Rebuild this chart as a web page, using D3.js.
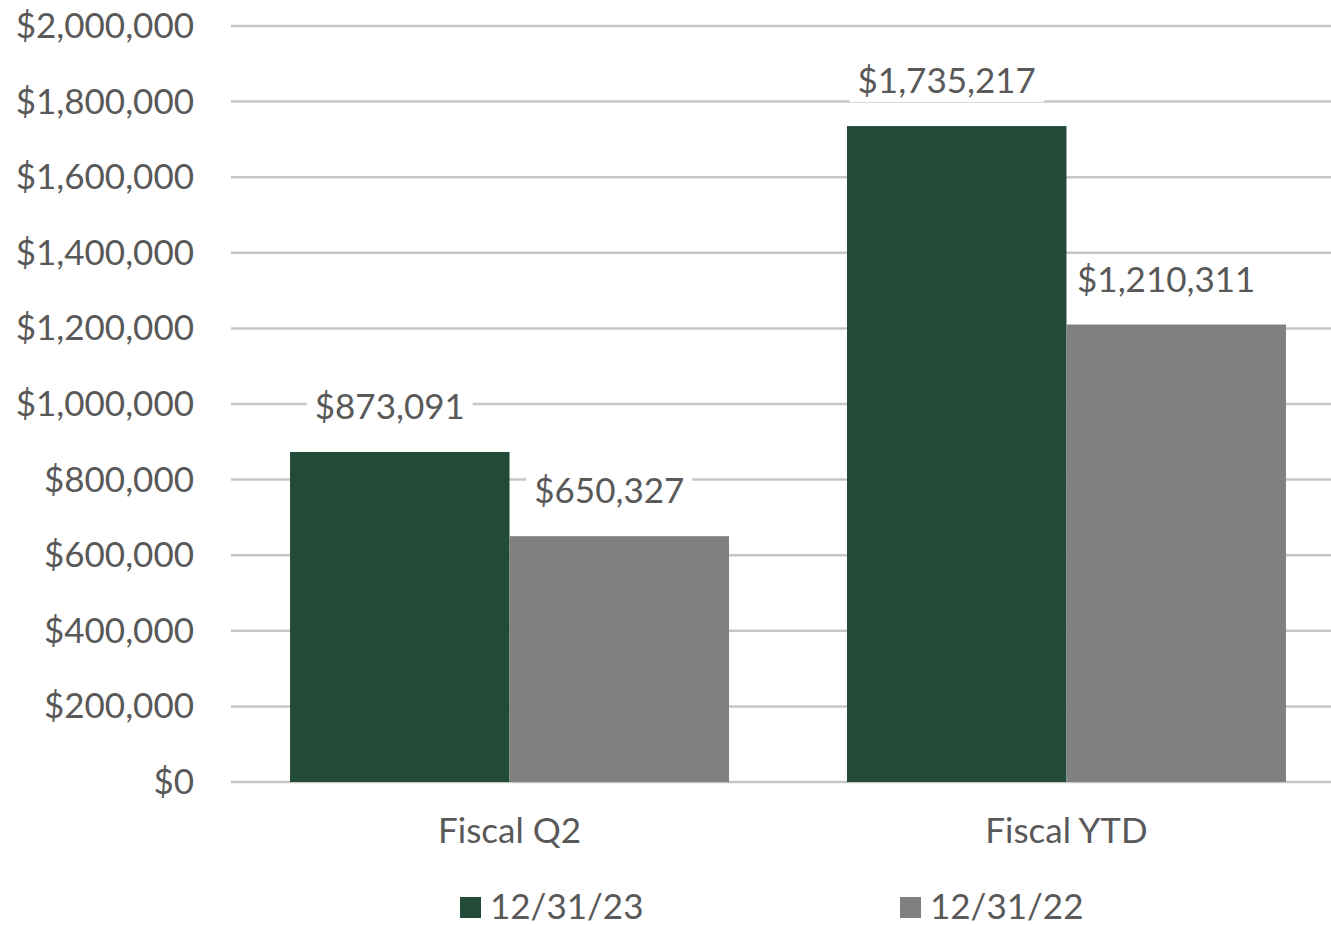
<!DOCTYPE html>
<html>
<head>
<meta charset="utf-8">
<script src="https://cdn.jsdelivr.net/npm/d3@7"></script>
<style>
  body { margin: 0; background: #fff; }
  text { font-family: Lato, "Open Sans", sans-serif; fill: #595959; }
</style>
</head>
<body>
<div id="chart"></div>
<script>
const categories = ["Fiscal Q2", "Fiscal YTD"];
const seriesNames = ["12/31/23", "12/31/22"];
const values2023 = [873091, 1735217];
const values2022 = [650327, 1210311];
const yTicks = [0, 200000, 400000, 600000, 800000, 1000000, 1200000, 1400000, 1600000, 1800000, 2000000];
const colors = ["#214b37", "#808080"];

const width = 1331, height = 925;
const fontSize = 35;
const svg = d3.select("#chart").append("svg")
    .attr("width", width)
    .attr("height", height);

const x = d3.scaleBand().domain(categories).range([231, 1345]).paddingInner(0.2118).paddingOuter(0.106);
const x1 = d3.scaleBand().domain(seriesNames).range([0, x.bandwidth()]);
const y = d3.scaleLinear().domain([0, 2000000]).range([782, 26]);

const fmt = d3.format("$,");

// gridlines
svg.append("g")
    .selectAll("line")
    .data(yTicks)
    .join("line")
    .attr("x1", 231)
    .attr("x2", width)
    .attr("y1", d => y(d))
    .attr("y2", d => y(d))
    .attr("stroke", "#c6c6c6")
    .attr("stroke-width", 2.5);

// y tick labels
svg.append("g")
    .selectAll("text")
    .data(yTicks)
    .join("text")
    .attr("x", 194)
    .attr("y", d => y(d) + 12)
    .attr("text-anchor", "end")
    .attr("font-size", fontSize)
    .text(d => fmt(d));

const rows = categories.map((c, i) => ({ cat: c, vals: [values2023[i], values2022[i]] }));

const groups = svg.append("g")
    .selectAll("g")
    .data(rows)
    .join("g")
    .attr("transform", d => `translate(${x(d.cat)},0)`);

groups.selectAll("rect")
    .data(d => d.vals.map((v, j) => ({ name: seriesNames[j], v, j })))
    .join("rect")
    .attr("x", d => x1(d.name))
    .attr("width", x1.bandwidth())
    .attr("y", d => y(d.v))
    .attr("height", d => y(0) - y(d.v))
    .attr("fill", d => colors[d.j]);

// data labels with white backing
groups.each(function(d) {
    const g = d3.select(this);
    d.vals.forEach((v, j) => {
        const cx = x1(seriesNames[j]) + x1.bandwidth() / 2 - 10;
        const lbl = g.append("g");
        const t = lbl.append("text")
            .attr("x", cx)
            .attr("y", y(v) - 33)
            .attr("text-anchor", "middle")
            .attr("font-size", fontSize)
            .text(fmt(v));
        const bb = t.node().getBBox();
        lbl.insert("rect", "text")
            .attr("x", bb.x - 8)
            .attr("y", bb.y - 2)
            .attr("width", bb.width + 16)
            .attr("height", bb.height + 4)
            .attr("fill", "#fff");
    });
});

// category labels
svg.append("g")
    .selectAll("text")
    .data(categories)
    .join("text")
    .attr("x", d => x(d) + x.bandwidth() / 2)
    .attr("y", 843)
    .attr("text-anchor", "middle")
    .attr("font-size", fontSize)
    .text(d => d);

// legend
const legendX = [460, 900];
const legend = svg.append("g")
    .selectAll("g")
    .data(seriesNames)
    .join("g")
    .attr("transform", (d, i) => `translate(${legendX[i]},0)`);
legend.append("rect")
    .attr("x", 0)
    .attr("y", 897)
    .attr("width", 21)
    .attr("height", 21)
    .attr("fill", (d, i) => colors[i]);
legend.append("text")
    .attr("x", 30)
    .attr("y", 919)
    .attr("font-size", fontSize)
    .text(d => d);
</script>
</body>
</html>
